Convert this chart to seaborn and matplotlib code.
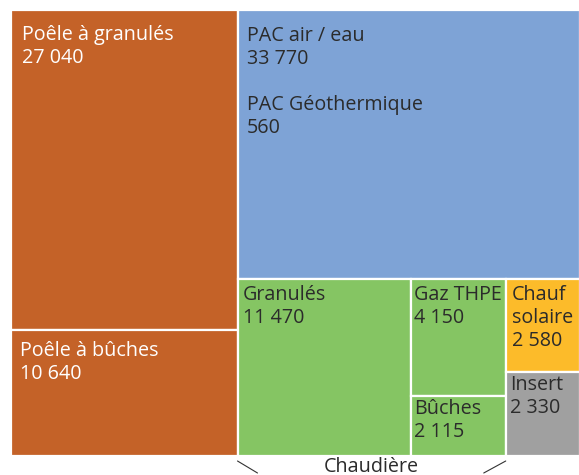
import matplotlib
matplotlib.use("Agg")
import matplotlib.pyplot as plt
from matplotlib.patches import Rectangle
import seaborn as sns

# ---------------- data ----------------
categories = ["Poêle à granulés", "Poêle à bûches", "PAC air / eau", "PAC Géothermique",
              "Granulés", "Gaz THPE", "Bûches", "Chauf\nsolaire", "Insert"]
values = [27040, 10640, 33770, 560, 11470, 4150, 2115, 2580, 2330]
groups = ["Poêle", "Poêle", "PAC", "PAC", "Chaudière", "Chaudière", "Chaudière",
          "Solaire", "Insert"]
group_label = "Chaudière"

# treemap structure: leaves are tuples of value indices
tree = [[(0,), (1,)], [(2, 3), [(4,), [(5,), (6,)], [(7,), (8,)]]]]

# ---------------- style ----------------
group_colors = {"Poêle": "#C46228", "PAC": "#7EA3D6", "Chaudière": "#85C563",
                "Solaire": "#FCBB2A", "Insert": "#A0A0A0"}
text_colors = {"Poêle": "white", "PAC": "#2B2B2B", "Chaudière": "#2B2B2B",
               "Solaire": "#2B2B2B", "Insert": "#2B2B2B"}
# text offsets in pixels (dx, dy) from the tile's top-left corner, keyed by first index
text_offsets = {0: (11, 15), 1: (9, 11), 2: (9, 16), 4: (5, 6), 5: (3, 6),
                6: (3, 3), 7: (6, 6), 8: (4, 3)}
FS = 14.2
LS = 1.2

sns.set_theme(style="white")
plt.rcParams["font.family"] = ["Open Sans", "DejaVu Sans"]

W, H = 579, 475
fig = plt.figure(figsize=(W / 100, H / 100), dpi=100)
left, right, top, bottom = 11, 580, 10, 456
ax = fig.add_axes([left / W, 1 - bottom / H, (right - left) / W, (bottom - top) / H])
ax.set_xlim(0, 1)
ax.set_ylim(1, 0)
ax.axis("off")
pxx = 1 / (right - left)
pxy = 1 / (bottom - top)


def node_sum(node):
    if isinstance(node, tuple):
        return sum(values[i] for i in node)
    return sum(node_sum(c) for c in node)


rects = []


def layout(node, x, y, w, h, depth):
    if isinstance(node, tuple):
        rects.append((node, x, y, w, h))
        return
    tot = node_sum(node)
    pos = 0.0
    for c in node:
        f = node_sum(c) / tot
        if depth % 2 == 0:
            layout(c, x + pos * w, y, f * w, h, depth + 1)
        else:
            layout(c, x, y + pos * h, w, f * h, depth + 1)
        pos += f


layout(tree, 0, 0, 1, 1, 0)


def fmt(v):
    return f"{v:,}".replace(",", " ")


for node, x, y, w, h in rects:
    g = groups[node[0]]
    ax.add_patch(Rectangle((x, y), w, h, facecolor=group_colors[g],
                           edgecolor="white", linewidth=1.6, clip_on=False))
    label = "\n\n".join(f"{categories[i]}\n{fmt(values[i])}" for i in node)
    dx, dy = text_offsets[node[0]]
    ax.annotate(label, xy=(x, y), xytext=(dx, -dy), textcoords="offset pixels",
                ha="left", va="top", fontsize=FS, color=text_colors[g],
                linespacing=LS, annotation_clip=False)

# Chaudière bracket below the group
gx = [r for r in rects if groups[r[0][0]] == group_label]
x0 = min(r[1] for r in gx)
x1 = max(r[1] + r[3] for r in gx)
ax.plot([x0, x0 + 20 * pxx], [1 + 5 * pxy, 1 + 17 * pxy], color="#333333",
        linewidth=0.8, clip_on=False)
ax.plot([x1, x1 - 22 * pxx], [1 + 5 * pxy, 1 + 17 * pxy], color="#333333",
        linewidth=0.8, clip_on=False)
ax.text((x0 + x1) / 2, 1 + 0.5 * pxy, group_label, ha="center", va="top",
        fontsize=FS, color="#2B2B2B", clip_on=False)

fig.savefig("out.png", dpi=100)
